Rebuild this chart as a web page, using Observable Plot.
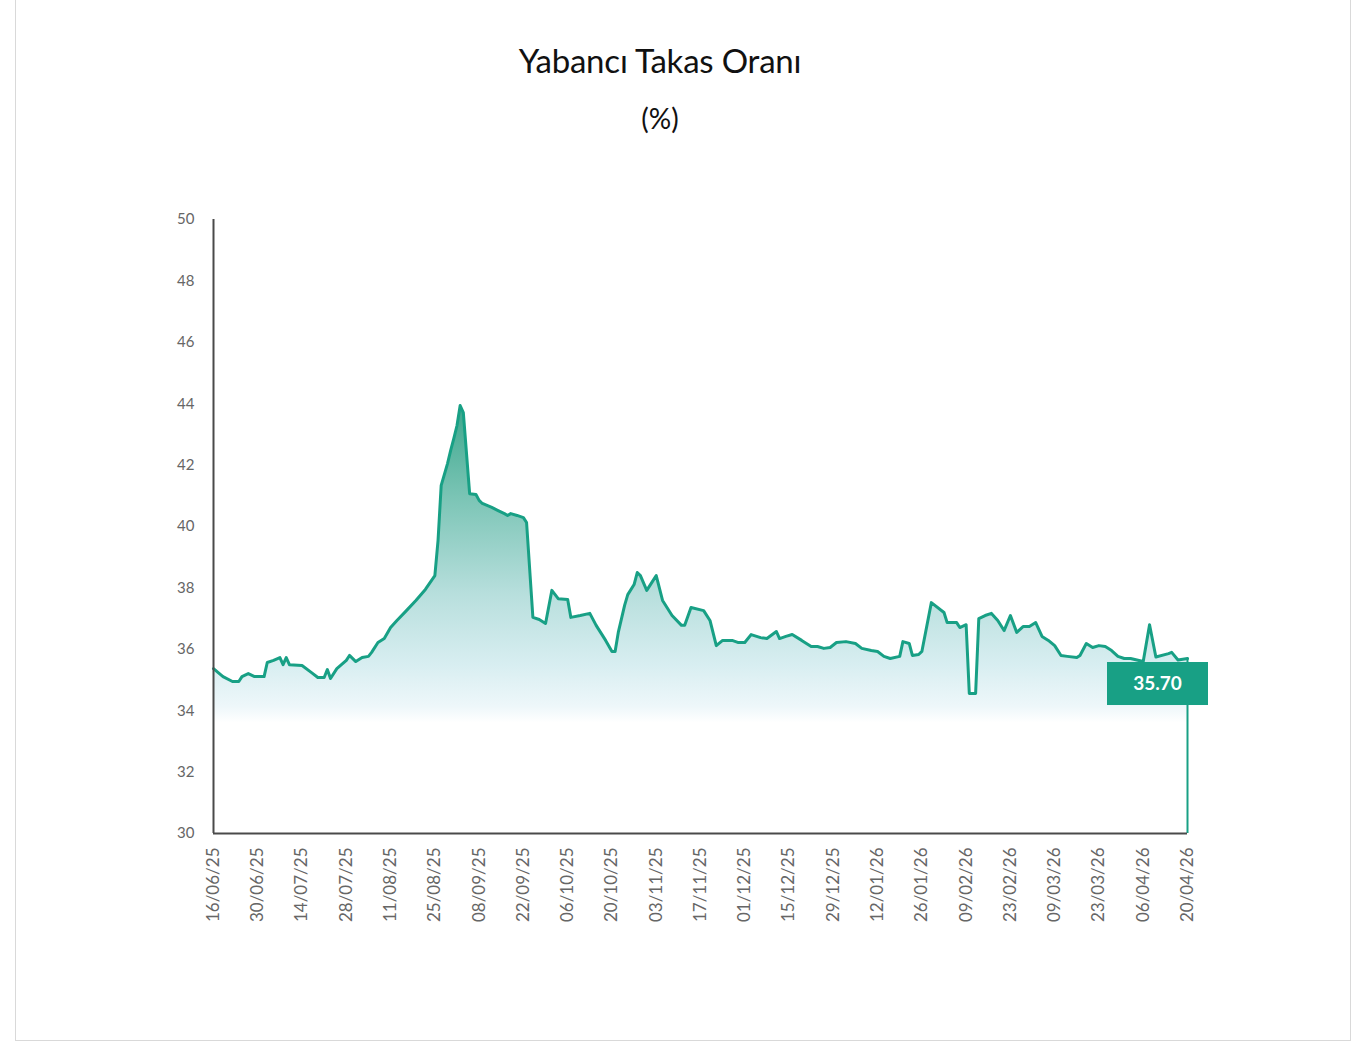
<!DOCTYPE html>
<html><head><meta charset="utf-8">
<script src="https://cdn.jsdelivr.net/npm/d3@7"></script>
<script src="https://cdn.jsdelivr.net/npm/@observablehq/plot@0.6"></script>
<style>
body{margin:0;background:#fff;font-family:Lato,"Open Sans",sans-serif;}
#page{position:relative;width:1371px;height:1042px;overflow:hidden;background:#fff;}
#frame{position:absolute;left:15px;top:-2px;width:1336px;height:1043px;border:1px solid #d9d9d9;box-sizing:border-box;}
#title{position:absolute;left:0;width:1320px;top:40px;text-align:center;font-size:33px;color:#111;letter-spacing:-0.2px;}
#sub{position:absolute;left:0;width:1320px;top:101px;text-align:center;font-size:28px;color:#111;}
#chart{position:absolute;left:0;top:180px;}
</style></head>
<body>
<div id="page">
  <div id="frame"></div>
  <div id="title">Yabancı Takas Oranı</div>
  <div id="sub">(%)</div>
  <div id="chart"></div>
</div>
<script>
const titleText = "Yabancı Takas Oranı";
const dates = [
  "2025-06-16","2025-06-19","2025-06-22","2025-06-24","2025-06-25","2025-06-27","2025-06-29",
  "2025-07-02","2025-07-03","2025-07-05","2025-07-07","2025-07-08","2025-07-09","2025-07-10","2025-07-14","2025-07-17","2025-07-19","2025-07-21","2025-07-22","2025-07-23","2025-07-25","2025-07-28","2025-07-29","2025-07-31",
  "2025-08-02","2025-08-04","2025-08-05","2025-08-07","2025-08-09","2025-08-11","2025-08-13","2025-08-16","2025-08-19","2025-08-22","2025-08-25","2025-08-26","2025-08-27","2025-08-29","2025-08-30","2025-08-31",
  "2025-09-01","2025-09-02","2025-09-03","2025-09-05","2025-09-07","2025-09-08","2025-09-09","2025-09-12","2025-09-14","2025-09-16","2025-09-17","2025-09-18","2025-09-20","2025-09-22","2025-09-23","2025-09-25","2025-09-27","2025-09-29",
  "2025-10-01","2025-10-03","2025-10-06","2025-10-07","2025-10-10","2025-10-13","2025-10-15","2025-10-18","2025-10-20","2025-10-21","2025-10-22","2025-10-24","2025-10-25","2025-10-27","2025-10-28","2025-10-29","2025-10-31",
  "2025-11-03","2025-11-05","2025-11-08","2025-11-11","2025-11-12","2025-11-14","2025-11-18","2025-11-20","2025-11-22","2025-11-24","2025-11-27","2025-11-29",
  "2025-12-01","2025-12-03","2025-12-06","2025-12-08","2025-12-11","2025-12-12","2025-12-14","2025-12-16","2025-12-19","2025-12-22","2025-12-24","2025-12-26","2025-12-28","2025-12-30",
  "2026-01-02","2026-01-05","2026-01-07","2026-01-10","2026-01-12","2026-01-14","2026-01-16","2026-01-19","2026-01-20","2026-01-22","2026-01-23","2026-01-25","2026-01-26","2026-01-29",
  "2026-02-02","2026-02-03","2026-02-06","2026-02-07","2026-02-09","2026-02-10","2026-02-12","2026-02-13","2026-02-15","2026-02-17","2026-02-19","2026-02-21","2026-02-23","2026-02-25","2026-02-27",
  "2026-03-01","2026-03-03","2026-03-05","2026-03-07","2026-03-09","2026-03-11","2026-03-13","2026-03-16","2026-03-17","2026-03-19","2026-03-21","2026-03-23","2026-03-25","2026-03-27","2026-03-29","2026-03-31",
  "2026-04-02","2026-04-04","2026-04-06","2026-04-08","2026-04-10","2026-04-14","2026-04-15","2026-04-17","2026-04-20"
];
const values = [
  35.37,35.11,34.95,34.95,35.11,35.21,35.11,
  35.11,35.57,35.64,35.73,35.50,35.73,35.50,35.47,35.24,35.08,35.08,35.34,35.05,35.37,35.64,35.80,35.60,
  35.73,35.77,35.90,36.22,36.35,36.71,36.94,37.26,37.59,37.95,38.40,39.54,41.34,42.05,42.48,42.87,
  43.29,43.94,43.71,41.07,41.04,40.85,40.75,40.62,40.52,40.42,40.36,40.42,40.36,40.29,40.13,37.04,36.97,36.84,
  37.92,37.65,37.62,37.04,37.10,37.17,36.78,36.29,35.93,35.93,36.55,37.43,37.78,38.11,38.50,38.40,37.92,
  38.40,37.59,37.10,36.78,36.78,37.36,37.26,36.94,36.12,36.29,36.29,36.22,
  36.22,36.48,36.38,36.35,36.58,36.35,36.42,36.48,36.29,36.09,36.09,36.03,36.06,36.22,
  36.25,36.19,36.03,35.96,35.93,35.77,35.70,35.77,36.25,36.19,35.80,35.83,35.93,37.52,
  37.20,36.87,36.87,36.71,36.80,34.56,34.56,37.00,37.10,37.17,36.94,36.61,37.10,36.55,36.74,
  36.74,36.87,36.42,36.29,36.12,35.80,35.77,35.73,35.80,36.19,36.06,36.12,36.09,35.96,35.77,35.70,
  35.70,35.65,35.60,36.80,35.75,35.86,35.90,35.65,35.70
];
const tickDates = [
  "2025-06-16","2025-06-30","2025-07-14","2025-07-28","2025-08-11","2025-08-25","2025-09-08","2025-09-22",
  "2025-10-06","2025-10-20","2025-11-03","2025-11-17","2025-12-01","2025-12-15","2025-12-29","2026-01-12",
  "2026-01-26","2026-02-09","2026-02-23","2026-03-09","2026-03-23","2026-04-06","2026-04-20"
];
const yTicks = [30,32,34,36,38,40,42,44,46,48,50];

const teal = "#18a085";
const data = dates.map((d,i)=>({date:new Date(d+"T00:00:00Z"), value:values[i]}));
const last = data[data.length-1];
const xStart = new Date(tickDates[0]+"T00:00:00Z");
const xEnd = new Date(tickDates[tickDates.length-1]+"T00:00:00Z");

const chart = Plot.plot({
  width:1371, height:800,
  marginLeft:213, marginRight:184, marginTop:39, marginBottom:147,
  style:{fontFamily:"Lato, 'Open Sans', sans-serif", color:"#666666", background:"transparent", overflow:"visible"},
  x:{type:"utc", domain:[xStart,xEnd]},
  y:{domain:[30,50]},
  marks:[
    Plot.areaY(data,{x:"date", y1:30, y2:"value", fill:"url(#areaGrad)", curve:"linear"}),
    Plot.ruleX([last],{x:"date", y1:30, y2:"value", stroke:teal, strokeWidth:2}),
    Plot.lineY(data,{x:"date", y:"value", stroke:teal, strokeWidth:3, strokeLinejoin:"round"}),
    Plot.axisY({ticks:yTicks, tickSize:0, tickPadding:19, fontSize:15, label:null}),
    Plot.axisX({ticks:tickDates.map(d=>new Date(d+"T00:00:00Z")), tickFormat:d3.utcFormat("%d/%m/%y"), tickRotate:-90, tickSize:0, tickPadding:14, fontSize:17, label:null}),
    Plot.ruleX([xStart],{y1:30, y2:50, stroke:"#4a4a4a", strokeWidth:2}),
    Plot.ruleY([30],{x1:xStart, x2:xEnd, stroke:"#4a4a4a", strokeWidth:2})
  ]
});
document.getElementById("chart").appendChild(chart);

const ys = chart.scale("y"), xs = chart.scale("x");
const svg = d3.select(chart);
const defs = svg.insert("defs",":first-child");
const g = defs.append("linearGradient").attr("id","areaGrad")
  .attr("gradientUnits","userSpaceOnUse")
  .attr("x1",0).attr("x2",0)
  .attr("y1", ys.apply(44)).attr("y2", ys.apply(33.6));
[[0,"#3aa68b"],[0.3,"#7cc5b6"],[0.6,"#b8dfdd"],[0.82,"#d8eef1"],[0.95,"#eef7fa"],[1,"#ffffff"]]
  .forEach(([o,c])=>g.append("stop").attr("offset",o).attr("stop-color",c));

// value badge anchored to the last point
const lx = xs.apply(last.date), ly = ys.apply(last.value);
const bw = 101, bh = 43, bx = lx - 80, by = ly + 4;
svg.append("rect").attr("x",bx).attr("y",by).attr("width",bw).attr("height",bh).attr("fill",teal);
svg.append("text").attr("x",bx+bw/2).attr("y",by+bh/2).attr("dy","0.35em")
  .attr("text-anchor","middle").attr("fill","#fff").attr("font-size",19).attr("font-weight","bold")
  .attr("font-family","Lato, 'Open Sans', sans-serif")
  .text(last.value.toFixed(2));
</script>
</body></html>
